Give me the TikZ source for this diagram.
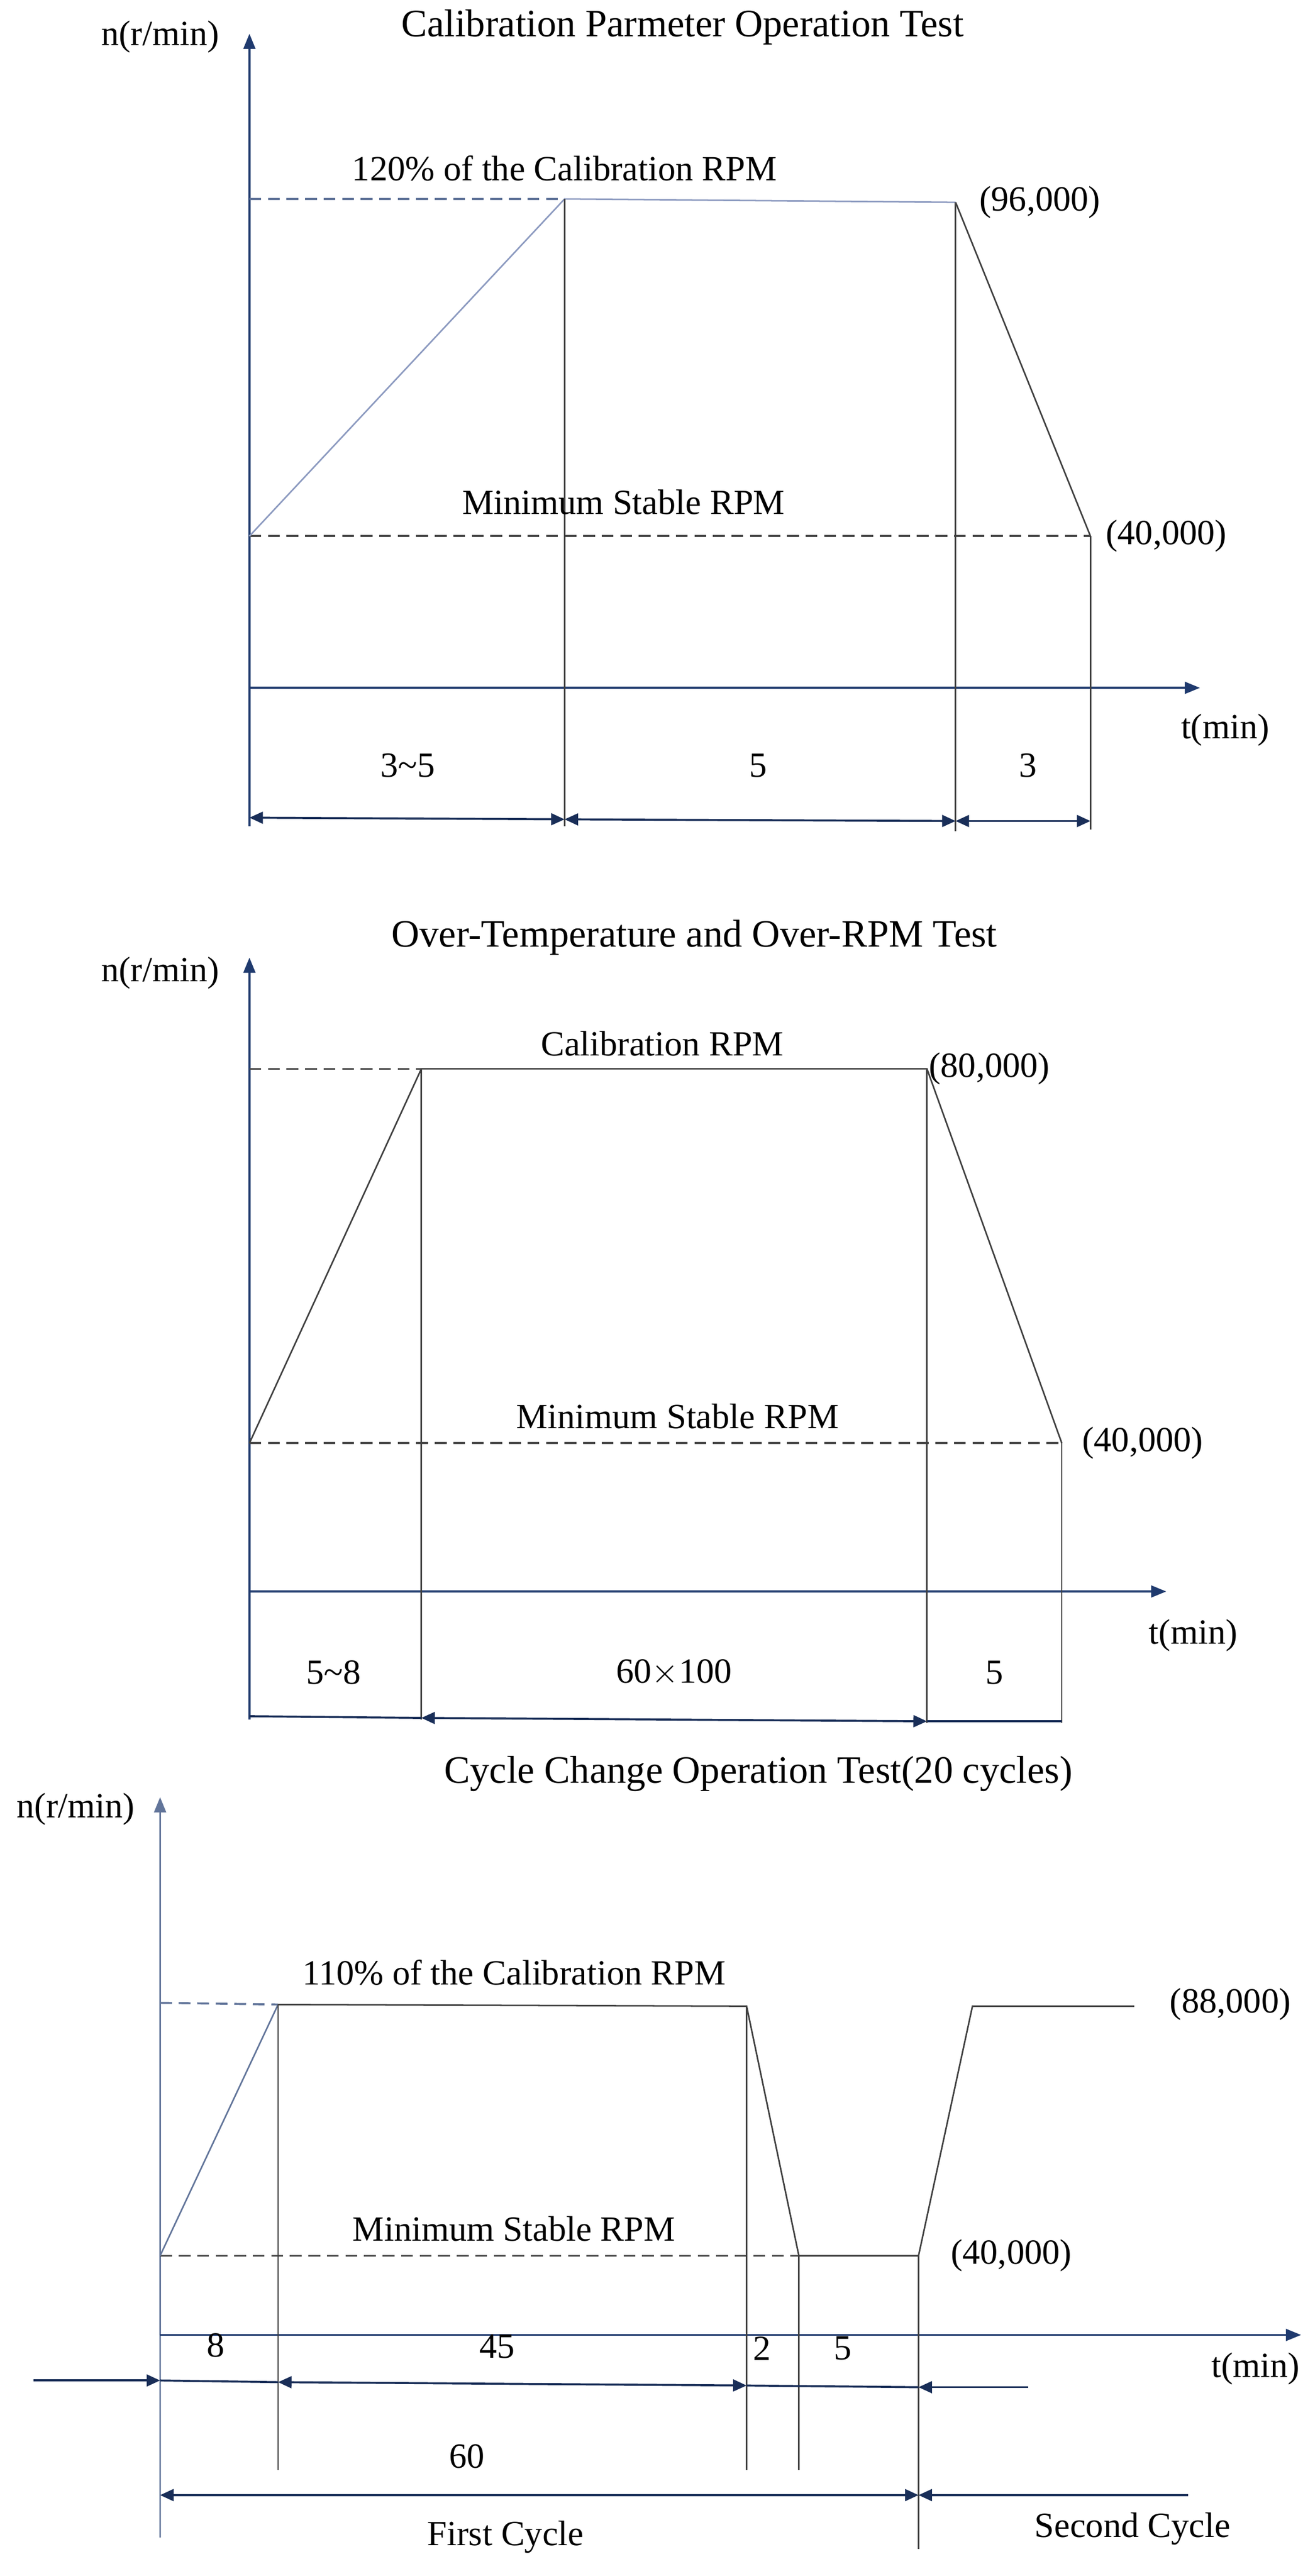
\documentclass[tikz,border=0pt]{standalone}
\usepackage{fontspec}
\setmainfont{Liberation Serif}
\usetikzlibrary{arrows.meta}
\definecolor{axc}{HTML}{1F3A6E}
\definecolor{ramp}{HTML}{8C9AC0}
\begin{document}
\begin{tikzpicture}[x=1pt,y=-1pt,
  lbl/.style={font=\fontsize{21}{24}\selectfont,inner sep=1pt},
  ttl/.style={font=\fontsize{23}{26}\selectfont,inner sep=1pt},
  axis/.style={axc,line width=1.2pt,-{Triangle[length=9pt,width=7pt]}},
  dimarr/.style={axc!80!black,line width=1.2pt},
  thin/.style={black!75,line width=0.9pt},
  dsh/.style={black!70,line width=1.2pt,dash pattern=on 7pt off 4pt},
  dshb/.style={axc!70,line width=1.2pt,dash pattern=on 7pt off 4pt},
  tip/.style={-{Triangle[length=8pt,width=7pt]}},
  bitip/.style={{Triangle[length=8pt,width=7pt]}-{Triangle[length=8pt,width=7pt]}}]
\useasboundingbox[fill=white] (0,0) rectangle (773,1528);
% ===== Panel 1 =====
\node[ttl] (t1) at (405,16) {Calibration Parmeter Operation Test};
\node[lbl] (n1) at (95,22) {n(r/min)};
\coordinate (o1) at (148,408);
\draw[axc,line width=1.2pt] (148,490) -- (o1);
\draw[axis] (o1) -- (148,20);
\draw[axis] (o1) -- (712,408);
\node[lbl] (tm1) at (727,433) {t(min)};
\coordinate (a1) at (148,318); \coordinate (b1) at (335,118);
\coordinate (c1) at (567,120); \coordinate (d1) at (647,318);
\draw[dshb] (148,118) -- (b1);
\draw[dsh] (a1) -- (d1);
\draw[ramp,line width=0.9pt] (a1) -- (b1) -- (c1);
\draw[thin] (c1) -- (d1);
\draw[thin] (b1) -- (335,490); \draw[thin] (c1) -- (567,493); \draw[thin] (d1) -- (647,492);
\draw[dimarr,bitip] (148,485) -- (335,486);
\draw[dimarr,bitip] (335,486) -- (567,487);
\draw[dimarr,bitip] (567,487) -- (647,487);
\node[lbl] at (242,454) {3\textasciitilde5};
\node[lbl] at (450,454) {5};
\node[lbl] at (610,454) {3};
\node[lbl] at (335,100) {120\% of the Calibration RPM};
\node[lbl] at (617,120) {(96,000)};
\node[lbl] at (370,298) {Minimum Stable RPM};
\node[lbl] at (692,318) {(40,000)};
% ===== Panel 2 =====
\node[ttl] (t2) at (412,556) {Over-Temperature and Over-RPM Test};
\node[lbl] (n2) at (95,577) {n(r/min)};
\coordinate (o2) at (148,944);
\draw[axc,line width=1.2pt] (148,1020) -- (o2);
\draw[axis] (o2) -- (148,568);
\draw[axis] (o2) -- (692,944);
\node[lbl] at (708,970) {t(min)};
\coordinate (a2) at (148,856); \coordinate (b2) at (250,634);
\coordinate (c2) at (550,634); \coordinate (d2) at (630,856);
\draw[dsh] (148,634) -- (b2);
\draw[dsh] (a2) -- (d2);
\draw[thin] (a2) -- (b2) -- (c2) -- (d2);
\draw[thin] (b2) -- (250,1020); \draw[thin] (c2) -- (550,1022); \draw[thin] (d2) -- (630,1022);
\draw[dimarr] (148,1018) -- (250,1019);
\draw[dimarr,bitip] (250,1019) -- (550,1021);
\draw[dimarr] (550,1021) -- (630,1021);
\node[lbl] at (198,992) {5\textasciitilde8};
\node[lbl] at (400,992) {60$\times$100};
\node[lbl] at (590,992) {5};
\node[lbl] at (393,619) {Calibration RPM};
\node[lbl] at (587,634) {(80,000)};
\node[lbl] at (402,840) {Minimum Stable RPM};
\node[lbl] at (678,856) {(40,000)};
% ===== Panel 3 =====
\node[ttl] (t3) at (450,1052) {Cycle Change Operation Test(20 cycles)};
\node[lbl] (n3) at (45,1073) {n(r/min)};
\coordinate (o3) at (95,1385);
\draw[axc!60,line width=1pt] (95,1505) -- (o3);
\draw[axis,axc!70] (o3) -- (95,1066);
\draw[axis] (o3) -- (772,1385);
\node[lbl] at (745,1405) {t(min)};
\coordinate (a3) at (95,1338); \coordinate (b3) at (165,1189);
\coordinate (c3) at (443,1190); \coordinate (d3) at (474,1338);
\coordinate (e3) at (545,1338); \coordinate (f3) at (577,1190);
\coordinate (g3) at (673,1190);
\draw[dshb] (95,1188) -- (b3);
\draw[dsh] (a3) -- (d3);
\draw[axc!70,line width=0.9pt] (a3) -- (b3);
\draw[thin] (b3) -- (c3) -- (d3) -- (e3) -- (f3) -- (g3);
\draw[thin] (b3) -- (165,1465); \draw[thin] (c3) -- (443,1465);
\draw[thin] (d3) -- (474,1465); \draw[thin] (e3) -- (545,1512);
\draw[dimarr,tip] (20,1412) -- (95,1412);
\draw[dimarr] (95,1412) -- (165,1413);
\draw[dimarr,bitip] (165,1413) -- (443,1415);
\draw[dimarr] (443,1415) -- (545,1416);
\draw[dimarr,tip] (610,1416) -- (545,1416);
\node[lbl] at (128,1391) {8};
\node[lbl] at (295,1392) {45};
\node[lbl] at (452,1393) {2};
\node[lbl] at (500,1393) {5};
\draw[dimarr,bitip] (95,1480) -- (545,1480);
\draw[dimarr,tip] (705,1480) -- (545,1480);
\node[lbl] at (277,1457) {60};
\node[lbl] at (300,1505) {First Cycle};
\node[lbl] at (672,1500) {Second Cycle};
\node[lbl] at (305,1170) {110\% of the Calibration RPM};
\node[lbl] at (730,1189) {(88,000)};
\node[lbl] at (305,1322) {Minimum Stable RPM};
\node[lbl] at (600,1338) {(40,000)};
\end{tikzpicture}
\end{document}
